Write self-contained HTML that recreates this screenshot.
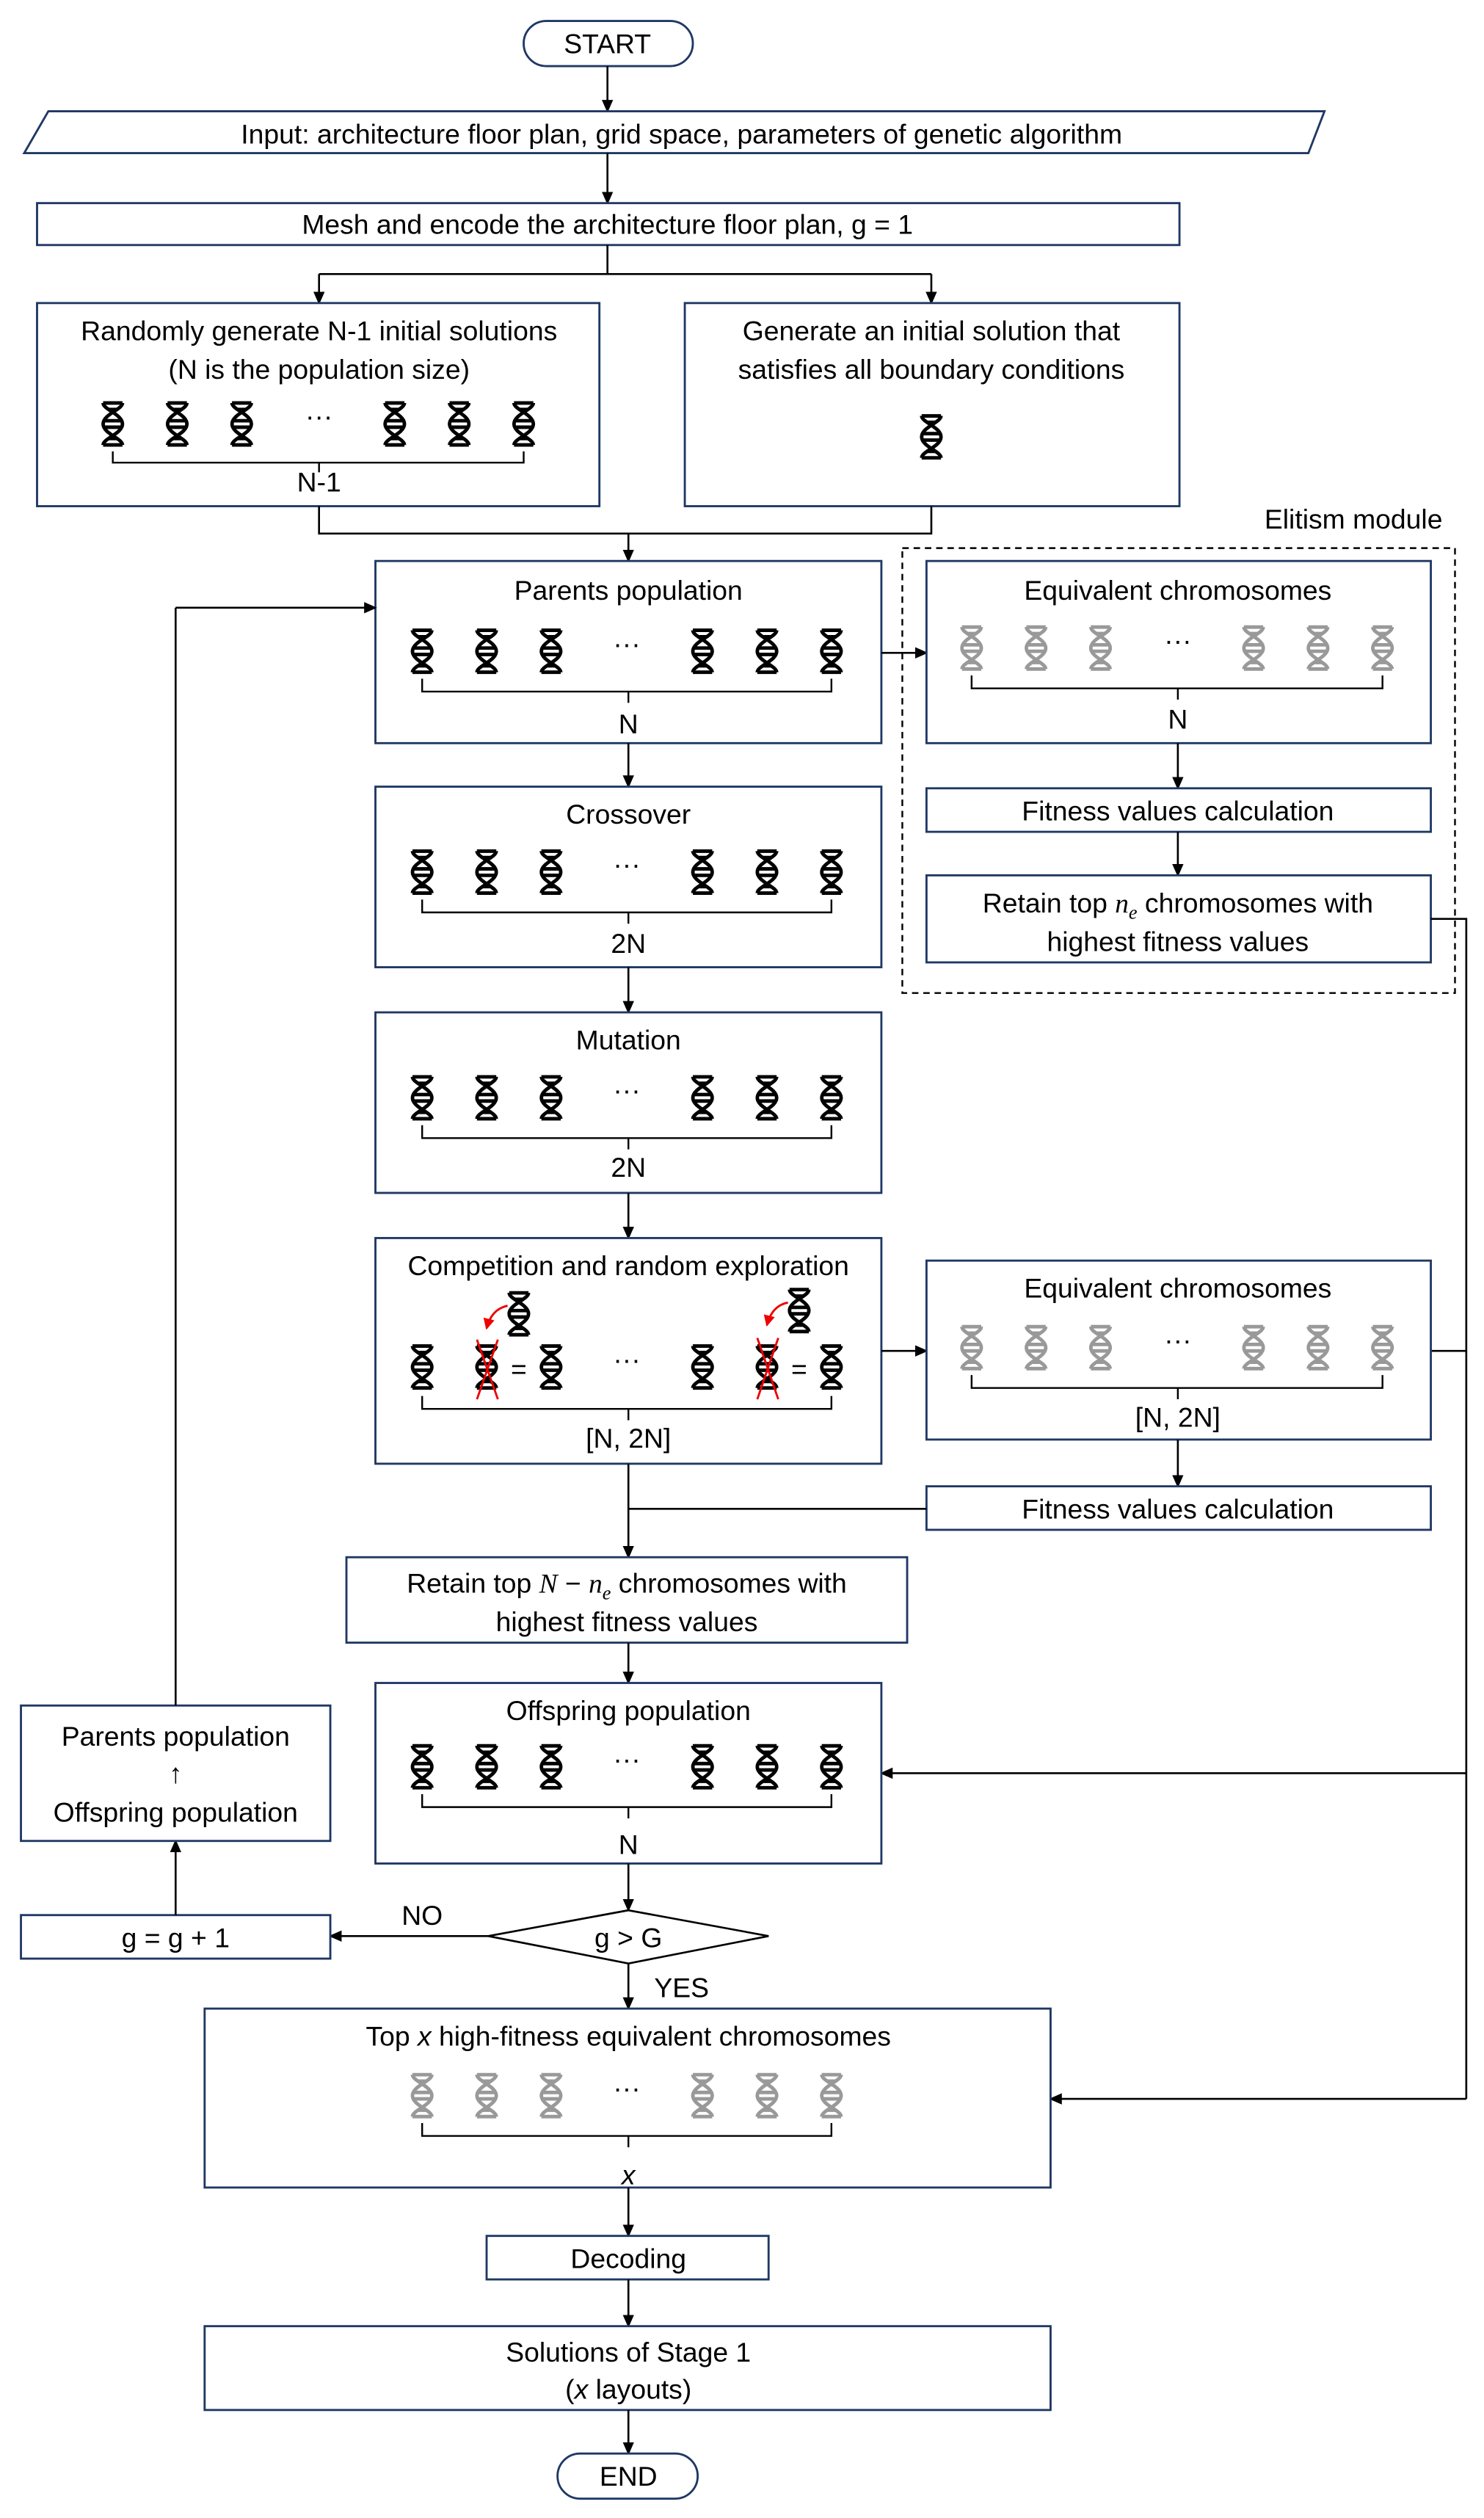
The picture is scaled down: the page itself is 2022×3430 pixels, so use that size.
<!DOCTYPE html>
<html><head><meta charset="utf-8"><style>
html,body{margin:0;padding:0;background:#fff;}
svg{display:block;}
text{font-family:"Liberation Sans",Arial,sans-serif;font-size:17px;fill:#000;}
.b{fill:#fff;stroke:#1f3864;stroke-width:1.3;}
.l{fill:none;stroke:#000;stroke-width:1.2;}
.br{fill:none;stroke:#000;stroke-width:1.1;}
</style></head><body>
<svg width="2022" height="3430" viewBox="0 0 921 1562" preserveAspectRatio="none" xmlns="http://www.w3.org/2000/svg">
<defs>
<marker id="a" markerWidth="8" markerHeight="8" refX="7" refY="4" orient="auto" markerUnits="userSpaceOnUse"><path d="M0,0.5 L8,4 L0,7.5 z" fill="#000"/></marker>
<marker id="ra" markerWidth="8" markerHeight="8" refX="6" refY="4" orient="auto" markerUnits="userSpaceOnUse"><path d="M0,0.5 L7,4 L0,7.5 z" fill="#e00"/></marker>
<g id="dna" fill="none" stroke-width="2.2">
<path d="M-6,-13 C-6,-9 6,-6 6,0 C6,6 -6,9 -6,13"/>
<path d="M6,-13 C6,-9 -6,-6 -6,0 C-6,6 6,9 6,13"/>
<path d="M-6,-13 h12 M-6,13 h12 M-3,-9 h6 M-5,-2 h10 M-5,2 h10 M-3,9 h6"/>
</g>
<g id="dk" stroke="#000"><use href="#dna"/></g>
<g id="dg" stroke="#999"><use href="#dna"/></g>
</defs>

<!-- START -->
<rect class="b" x="325" y="13" width="105" height="28" rx="14"/>
<text x="377" y="33" text-anchor="middle">START</text>
<line class="l" x1="377" y1="41" x2="377" y2="69" marker-end="url(#a)"/>
<!-- Input -->
<polygon class="b" points="30,69 822,69 812,95 15,95"/>
<text x="423" y="89" text-anchor="middle">Input: architecture floor plan, grid space, parameters of genetic algorithm</text>
<line class="l" x1="377" y1="95" x2="377" y2="126" marker-end="url(#a)"/>
<!-- Mesh -->
<rect class="b" x="23" y="126" width="709" height="26"/>
<text x="377" y="145" text-anchor="middle">Mesh and encode the architecture floor plan, g = 1</text>
<path class="l" d="M377,152 V170 M198,170 H578"/>
<line class="l" x1="198" y1="170" x2="198" y2="188" marker-end="url(#a)"/>
<line class="l" x1="578" y1="170" x2="578" y2="188" marker-end="url(#a)"/>
<!-- Left init -->
<rect class="b" x="23" y="188" width="349" height="126"/>
<text x="198" y="211" text-anchor="middle">Randomly generate N-1 initial solutions</text>
<text x="198" y="235" text-anchor="middle">(N is the population size)</text>
<use href="#dk" x="70" y="263"/><use href="#dk" x="110" y="263"/><use href="#dk" x="150" y="263"/>
<text x="198" y="264" text-anchor="middle">···</text>
<use href="#dk" x="245" y="263"/><use href="#dk" x="285" y="263"/><use href="#dk" x="325" y="263"/>
<path class="br" d="M70,280 V287 H325 V280 M198,287 V293"/>
<text x="198" y="305" text-anchor="middle">N-1</text>
<!-- Right init -->
<rect class="b" x="425" y="188" width="307" height="126"/>
<text x="578" y="211" text-anchor="middle">Generate an initial solution that</text>
<text x="578" y="235" text-anchor="middle">satisfies all boundary conditions</text>
<use href="#dk" x="578" y="271"/>
<path class="l" d="M198,314 V331 H578 V314"/>
<line class="l" x1="390" y1="331" x2="390" y2="348" marker-end="url(#a)"/>

<!-- Elitism -->
<text x="840" y="328" text-anchor="middle">Elitism module</text>
<rect x="560" y="340" width="343" height="276" fill="none" stroke="#000" stroke-width="1.1" stroke-dasharray="4,3"/>

<!-- Parents population -->
<rect class="b" x="233" y="348" width="314" height="113"/>
<text x="390" y="372" text-anchor="middle">Parents population</text>
<use href="#dk" x="262" y="404"/><use href="#dk" x="302" y="404"/><use href="#dk" x="342" y="404"/>
<text x="389" y="405" text-anchor="middle">···</text>
<use href="#dk" x="436" y="404"/><use href="#dk" x="476" y="404"/><use href="#dk" x="516" y="404"/>
<path class="br" d="M262,421 V429 H516 V421 M390,429 V436"/>
<text x="390" y="455" text-anchor="middle">N</text>
<line class="l" x1="547" y1="405" x2="575" y2="405" marker-end="url(#a)"/>

<rect class="b" x="575" y="348" width="313" height="113"/>
<text x="731" y="372" text-anchor="middle">Equivalent chromosomes</text>
<use href="#dg" x="603" y="402"/><use href="#dg" x="643" y="402"/><use href="#dg" x="683" y="402"/>
<text x="731" y="403" text-anchor="middle">···</text>
<use href="#dg" x="778" y="402"/><use href="#dg" x="818" y="402"/><use href="#dg" x="858" y="402"/>
<path class="br" d="M603,419 V427 H858 V419 M731,427 V434"/>
<text x="731" y="452" text-anchor="middle">N</text>
<line class="l" x1="731" y1="461" x2="731" y2="489" marker-end="url(#a)"/>
<rect class="b" x="575" y="489" width="313" height="27"/>
<text x="731" y="509" text-anchor="middle">Fitness values calculation</text>
<line class="l" x1="731" y1="516" x2="731" y2="543" marker-end="url(#a)"/>
<rect class="b" x="575" y="543" width="313" height="54"/>
<text x="731" y="566" text-anchor="middle">Retain top <tspan font-family="Liberation Serif" font-style="italic">n</tspan><tspan font-family="Liberation Serif" font-style="italic" font-size="12" dy="4">e</tspan><tspan dy="-4"> chromosomes with</tspan></text>
<text x="731" y="590" text-anchor="middle">highest fitness values</text>
<path class="l" d="M888,570 H910 V1302"/>
<path class="l" d="M888,838 H910"/>
<line class="l" x1="910" y1="1100" x2="547" y2="1100" marker-end="url(#a)"/>
<line class="l" x1="910" y1="1302" x2="652" y2="1302" marker-end="url(#a)"/>

<line class="l" x1="390" y1="461" x2="390" y2="488" marker-end="url(#a)"/>
<!-- Crossover -->
<rect class="b" x="233" y="488" width="314" height="112"/>
<text x="390" y="511" text-anchor="middle">Crossover</text>
<use href="#dk" x="262" y="541"/><use href="#dk" x="302" y="541"/><use href="#dk" x="342" y="541"/>
<text x="389" y="542" text-anchor="middle">···</text>
<use href="#dk" x="436" y="541"/><use href="#dk" x="476" y="541"/><use href="#dk" x="516" y="541"/>
<path class="br" d="M262,558 V566 H516 V558 M390,566 V573"/>
<text x="390" y="591" text-anchor="middle">2N</text>
<line class="l" x1="390" y1="600" x2="390" y2="628" marker-end="url(#a)"/>
<!-- Mutation -->
<rect class="b" x="233" y="628" width="314" height="112"/>
<text x="390" y="651" text-anchor="middle">Mutation</text>
<use href="#dk" x="262" y="681"/><use href="#dk" x="302" y="681"/><use href="#dk" x="342" y="681"/>
<text x="389" y="682" text-anchor="middle">···</text>
<use href="#dk" x="436" y="681"/><use href="#dk" x="476" y="681"/><use href="#dk" x="516" y="681"/>
<path class="br" d="M262,698 V706 H516 V698 M390,706 V713"/>
<text x="390" y="730" text-anchor="middle">2N</text>
<line class="l" x1="390" y1="740" x2="390" y2="768" marker-end="url(#a)"/>
<!-- Competition -->
<rect class="b" x="233" y="768" width="314" height="140"/>
<text x="390" y="791" text-anchor="middle">Competition and random exploration</text>
<use href="#dk" x="322" y="815"/><use href="#dk" x="496" y="813"/>
<path d="M315,810 Q305,812 302,824" fill="none" stroke="#e00" stroke-width="1.3" marker-end="url(#ra)"/>
<path d="M489,808 Q479,810 476,822" fill="none" stroke="#e00" stroke-width="1.3" marker-end="url(#ra)"/>
<use href="#dk" x="262" y="848"/><use href="#dk" x="302" y="848"/><use href="#dk" x="342" y="848"/>
<text x="322" y="855" text-anchor="middle" font-size="20">=</text>
<text x="389" y="849" text-anchor="middle">···</text>
<use href="#dk" x="436" y="848"/><use href="#dk" x="476" y="848"/><use href="#dk" x="516" y="848"/>
<text x="496" y="855" text-anchor="middle" font-size="20">=</text>
<path d="M296,831 L309,868 M309,831 L296,868 M470,830 L483,868 M483,830 L470,868" stroke="#e00" stroke-width="1.3" fill="none"/>
<path class="br" d="M262,866 V874 H516 V866 M390,874 V881"/>
<text x="390" y="898" text-anchor="middle">[N, 2N]</text>
<line class="l" x1="547" y1="838" x2="575" y2="838" marker-end="url(#a)"/>
<rect class="b" x="575" y="782" width="313" height="111"/>
<text x="731" y="805" text-anchor="middle">Equivalent chromosomes</text>
<use href="#dg" x="603" y="836"/><use href="#dg" x="643" y="836"/><use href="#dg" x="683" y="836"/>
<text x="731" y="837" text-anchor="middle">···</text>
<use href="#dg" x="778" y="836"/><use href="#dg" x="818" y="836"/><use href="#dg" x="858" y="836"/>
<path class="br" d="M603,853 V861 H858 V853 M731,861 V868"/>
<text x="731" y="885" text-anchor="middle">[N, 2N]</text>
<line class="l" x1="731" y1="893" x2="731" y2="922" marker-end="url(#a)"/>
<rect class="b" x="575" y="922" width="313" height="27"/>
<text x="731" y="942" text-anchor="middle">Fitness values calculation</text>
<path class="l" d="M575,936 H390"/>
<line class="l" x1="390" y1="908" x2="390" y2="966" marker-end="url(#a)"/>
<!-- Retain 2 -->
<rect class="b" x="215" y="966" width="348" height="53"/>
<text x="389" y="988" text-anchor="middle">Retain top <tspan font-family="Liberation Serif" font-style="italic">N</tspan> − <tspan font-family="Liberation Serif" font-style="italic">n</tspan><tspan font-family="Liberation Serif" font-style="italic" font-size="12" dy="4">e</tspan><tspan dy="-4"> chromosomes with</tspan></text>
<text x="389" y="1012" text-anchor="middle">highest fitness values</text>
<line class="l" x1="390" y1="1019" x2="390" y2="1044" marker-end="url(#a)"/>
<!-- Offspring -->
<rect class="b" x="233" y="1044" width="314" height="112"/>
<text x="390" y="1067" text-anchor="middle">Offspring population</text>
<use href="#dk" x="262" y="1096"/><use href="#dk" x="302" y="1096"/><use href="#dk" x="342" y="1096"/>
<text x="389" y="1097" text-anchor="middle">···</text>
<use href="#dk" x="436" y="1096"/><use href="#dk" x="476" y="1096"/><use href="#dk" x="516" y="1096"/>
<path class="br" d="M262,1113 V1121 H516 V1113 M390,1121 V1128"/>
<text x="390" y="1150" text-anchor="middle">N</text>
<line class="l" x1="390" y1="1156" x2="390" y2="1185" marker-end="url(#a)"/>
<!-- Diamond -->
<polygon points="390,1185 477,1201 390,1218 303,1201" fill="#fff" stroke="#000" stroke-width="1.2"/>
<text x="390" y="1208" text-anchor="middle">g &gt; G</text>
<line class="l" x1="303" y1="1201" x2="205" y2="1201" marker-end="url(#a)"/>
<text x="262" y="1194" text-anchor="middle">NO</text>
<rect class="b" x="13" y="1188" width="192" height="27"/>
<text x="109" y="1208" text-anchor="middle">g = g + 1</text>
<line class="l" x1="109" y1="1188" x2="109" y2="1142" marker-end="url(#a)"/>
<rect class="b" x="13" y="1058" width="192" height="84"/>
<text x="109" y="1083" text-anchor="middle">Parents population</text>
<text x="109" y="1106" text-anchor="middle">↑</text>
<text x="109" y="1130" text-anchor="middle">Offspring population</text>
<path class="l" d="M109,1058 V377"/>
<line class="l" x1="109" y1="377" x2="233" y2="377" marker-end="url(#a)"/>
<line class="l" x1="390" y1="1218" x2="390" y2="1246" marker-end="url(#a)"/>
<text x="423" y="1239" text-anchor="middle">YES</text>
<!-- Top x -->
<rect class="b" x="127" y="1246" width="525" height="111"/>
<text x="390" y="1269" text-anchor="middle">Top <tspan font-style="italic">x</tspan> high-fitness equivalent chromosomes</text>
<use href="#dg" x="262" y="1300"/><use href="#dg" x="302" y="1300"/><use href="#dg" x="342" y="1300"/>
<text x="389" y="1301" text-anchor="middle">···</text>
<use href="#dg" x="436" y="1300"/><use href="#dg" x="476" y="1300"/><use href="#dg" x="516" y="1300"/>
<path class="br" d="M262,1317 V1325 H516 V1317 M390,1325 V1332"/>
<text x="390" y="1355" text-anchor="middle" font-style="italic">x</text>
<line class="l" x1="390" y1="1357" x2="390" y2="1387" marker-end="url(#a)"/>
<rect class="b" x="302" y="1387" width="175" height="27"/>
<text x="390" y="1407" text-anchor="middle">Decoding</text>
<line class="l" x1="390" y1="1414" x2="390" y2="1443" marker-end="url(#a)"/>
<rect class="b" x="127" y="1443" width="525" height="52"/>
<text x="390" y="1465" text-anchor="middle">Solutions of Stage 1</text>
<text x="390" y="1488" text-anchor="middle">(<tspan font-style="italic">x</tspan> layouts)</text>
<line class="l" x1="390" y1="1495" x2="390" y2="1522" marker-end="url(#a)"/>
<rect class="b" x="346" y="1522" width="87" height="28" rx="14"/>
<text x="390" y="1542" text-anchor="middle">END</text>
</svg>
</body></html>
